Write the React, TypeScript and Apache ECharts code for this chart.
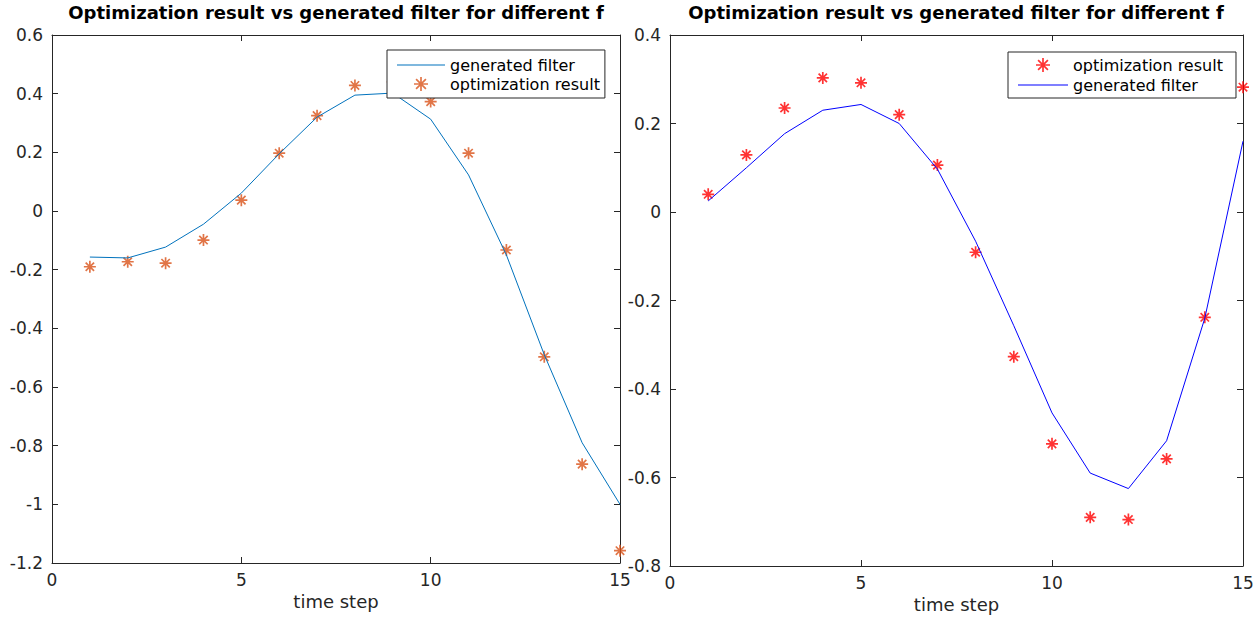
import React, { useEffect, useRef } from "react";
import * as echarts from "echarts";

const steps = [1, 2, 3, 4, 5, 6, 7, 8, 9, 10, 11, 12, 13, 14, 15];
const leftFilter = [-0.157, -0.16, -0.123, -0.045, 0.061, 0.195, 0.32, 0.395, 0.402, 0.313, 0.123, -0.15, -0.49, -0.79, -1.0];
const leftOpt = [-0.19, -0.173, -0.178, -0.099, 0.037, 0.197, 0.325, 0.428, 0.44, 0.373, 0.197, -0.133, -0.497, -0.863, -1.158];
const rightOpt = [0.04, 0.129, 0.235, 0.303, 0.292, 0.22, 0.106, -0.091, -0.327, -0.524, -0.69, -0.695, -0.558, -0.238, 0.282];
const rightFilter = [0.025, 0.1, 0.177, 0.23, 0.243, 0.2, 0.097, -0.066, -0.257, -0.454, -0.59, -0.625, -0.517, -0.24, 0.16];
const titleText = "Optimization result vs generated filter for different f";
const xName = "time step";

const FONT = "DejaVu Sans";
const AX = "#262626";
const STAR = "path://M6,0L6,12M0,6L12,6M1.8,1.8L10.2,10.2M1.8,10.2L10.2,1.8";
const LINE_ICON = "path://M0,0L50,0L50,1L0,1Z";

const pairs = (ys: number[]) => steps.map((x, i) => [x, ys[i]]);

function xAxes(gridIndex: number) {
  const base = {
    gridIndex,
    type: "value" as const,
    min: 0,
    max: 15,
    interval: 5,
    splitLine: { show: false },
    axisLine: { show: true, onZero: false, lineStyle: { color: AX, width: 1 } },
    axisTick: { show: true, inside: true, length: 6, lineStyle: { color: AX } },
  };
  return [
    {
      ...base,
      position: "bottom",
      name: xName,
      nameLocation: "middle",
      nameGap: 29,
      nameTextStyle: { fontFamily: FONT, fontSize: 18, color: AX },
      axisLabel: { show: true, margin: 8, fontFamily: FONT, fontSize: 17, color: AX },
    },
    { ...base, position: "top", axisLabel: { show: false } },
  ];
}

function yAxes(gridIndex: number, min: number, max: number) {
  const base = {
    gridIndex,
    type: "value" as const,
    min,
    max,
    interval: 0.2,
    splitLine: { show: false },
    axisLine: { show: true, onZero: false, lineStyle: { color: AX, width: 1 } },
    axisTick: { show: true, inside: true, length: 6, lineStyle: { color: AX } },
  };
  return [
    {
      ...base,
      position: "left",
      axisLabel: { show: true, margin: 9, fontFamily: FONT, fontSize: 17, color: AX },
    },
    { ...base, position: "right", axisLabel: { show: false } },
  ];
}

export default function App() {
  const ref = useRef<HTMLDivElement>(null);
  useEffect(() => {
    if (!ref.current) return;
    const chart = echarts.init(ref.current, undefined, { renderer: "svg" });
    const legendBase = {
      orient: "vertical" as const,
      backgroundColor: "#ffffff",
      borderColor: AX,
      borderWidth: 1,
      borderRadius: 0,
      itemHeight: 14,
      selectedMode: false,
      symbolKeepAspect: true,
      textStyle: { fontFamily: FONT, fontSize: 16, color: "#000", lineHeight: 16 },
    };
    const option: any = {
      animation: false,
      backgroundColor: "#ffffff",
      title: [
        {
          text: titleText,
          left: 336,
          top: 3,
          textAlign: "center",
          padding: 0,
          textStyle: { fontFamily: FONT, fontSize: 18, fontWeight: "bold", color: "#000" },
        },
        {
          text: titleText,
          left: 956,
          top: 3,
          textAlign: "center",
          padding: 0,
          textStyle: { fontFamily: FONT, fontSize: 18, fontWeight: "bold", color: "#000" },
        },
      ],
      grid: [
        { left: 52, right: 639, top: 35, bottom: 58 },
        { left: 670, right: 16, top: 35, bottom: 55 },
      ],
      xAxis: [...xAxes(0), ...xAxes(1)],
      yAxis: [...yAxes(0, -1.2, 0.6), ...yAxes(1, -0.8, 0.4)],
      legend: [
        {
          ...legendBase,
          left: 387,
          top: 50,
          itemWidth: 48,
          itemGap: 3,
          padding: [7, 5, 6, 10],
          data: [
            {
              name: "generated filter",
              icon: LINE_ICON,
              itemStyle: { color: "#0072BD", borderWidth: 0 },
            },
            {
              name: "optimization result",
              icon: STAR,
              itemStyle: { color: "#D95319", borderColor: "#D95319", borderWidth: 1.7 },
            },
          ],
        },
        {
          ...legendBase,
          left: 1008,
          top: 52,
          itemWidth: 50,
          itemGap: 4,
          padding: [5, 8, 5, 10],
          data: [
            {
              name: "optimization result ",
              icon: STAR,
              itemStyle: { color: "#FF0000", borderColor: "#FF0000", borderWidth: 1.7 },
            },
            {
              name: "generated filter ",
              icon: LINE_ICON,
              itemStyle: { color: "#0000FF", borderWidth: 0 },
            },
          ],
        },
      ],
      series: [
        {
          name: "generated filter",
          type: "line",
          xAxisIndex: 0,
          yAxisIndex: 0,
          data: pairs(leftFilter),
          symbol: "none",
          lineStyle: { color: "#0072BD", width: 1 },
          itemStyle: { color: "#0072BD" },
        },
        {
          name: "optimization result",
          type: "scatter",
          xAxisIndex: 0,
          yAxisIndex: 0,
          data: pairs(leftOpt),
          symbol: STAR,
          symbolSize: 12,
          clip: false,
          itemStyle: { color: "#D95319", borderColor: "#D95319", borderWidth: 1.7 },
        },
        {
          name: "optimization result ",
          type: "scatter",
          xAxisIndex: 2,
          yAxisIndex: 2,
          data: pairs(rightOpt),
          symbol: STAR,
          symbolSize: 12,
          clip: false,
          itemStyle: { color: "#FF0000", borderColor: "#FF0000", borderWidth: 1.7 },
        },
        {
          name: "generated filter ",
          type: "line",
          xAxisIndex: 2,
          yAxisIndex: 2,
          data: pairs(rightFilter),
          symbol: "none",
          lineStyle: { color: "#0000FF", width: 1 },
          itemStyle: { color: "#0000FF" },
        },
      ],
    };
    chart.setOption(option);
    return () => chart.dispose();
  }, []);
  return (
    <div
      ref={ref}
      style={{ position: "absolute", left: 0, top: 0, width: 1259, height: 621 }}
    />
  );
}
